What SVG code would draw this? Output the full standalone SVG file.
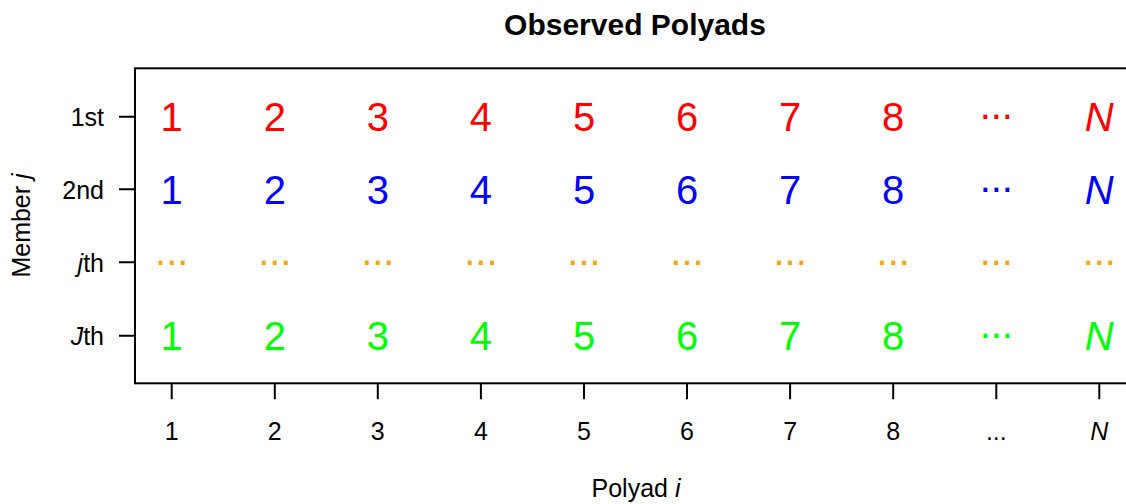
<svg xmlns="http://www.w3.org/2000/svg" width="1126" height="504" viewBox="0 0 1126 504">
<style>
text{font-family:"Liberation Sans",Arial,sans-serif;}
.title{font-size:30px;font-weight:bold;text-anchor:middle;}
.lab{font-size:25px;fill:#000;}
.tx{text-anchor:middle;}
.ty{text-anchor:end;}
.big{font-size:40px;text-anchor:middle;}
.it{font-style:italic;}
.r{fill:#FF0000;}.b{fill:#0000FF;}.o{fill:#FFA500;}.g{fill:#00FF00;}
.ax{stroke:#000;stroke-width:2;fill:none;}
</style>
<rect width="1126" height="504" fill="#fff"/>
<text class="title" x="635" y="35">Observed Polyads</text>
<g id="axes">
<rect class="ax" x="135" y="68.3" width="1010" height="315"/>
<path class="ax" d="M171.7 383.3V399.3M274.8 383.3V399.3M377.8 383.3V399.3M480.9 383.3V399.3M584 383.3V399.3M687 383.3V399.3M790.1 383.3V399.3M893.2 383.3V399.3M996.3 383.3V399.3M1099.3 383.3V399.3"/>
<path class="ax" d="M119 116.7H135M119 189.3H135M119 262.3H135M119 335.7H135"/>
<g class="lab tx">
<text x="171.7" y="440">1</text><text x="274.8" y="440">2</text><text x="377.8" y="440">3</text><text x="480.9" y="440">4</text><text x="584" y="440">5</text><text x="687" y="440">6</text><text x="790.1" y="440">7</text><text x="893.2" y="440">8</text><text x="996.3" y="440">...</text><text x="1099.3" y="440" class="it">N</text>
</g>
<g class="lab ty">
<text x="104" y="126">1st</text>
<text x="104" y="198.5">2nd</text>
<text x="104" y="271.5"><tspan class="it">j</tspan>th</text>
<text x="104" y="345"><tspan class="it">J</tspan>th</text>
</g>
<text class="lab tx" x="636" y="497">Polyad <tspan class="it">i</tspan></text>
<text class="lab tx" transform="translate(30 225.5) rotate(-90)">Member <tspan class="it">j</tspan></text>
</g>
<g id="row1" class="big r">
<text x="171.7" y="131">1</text><text x="274.8" y="131">2</text><text x="377.8" y="131">3</text><text x="480.9" y="131">4</text><text x="584" y="131">5</text><text x="687" y="131">6</text><text x="790.1" y="131">7</text><text x="893.2" y="131">8</text><text x="996.3" y="119.4">...</text><text x="1099.3" y="131" class="it">N</text>
</g>
<g id="row2" class="big b">
<text x="171.7" y="203.5">1</text><text x="274.8" y="203.5">2</text><text x="377.8" y="203.5">3</text><text x="480.9" y="203.5">4</text><text x="584" y="203.5">5</text><text x="687" y="203.5">6</text><text x="790.1" y="203.5">7</text><text x="893.2" y="203.5">8</text><text x="996.3" y="192">...</text><text x="1099.3" y="203.5" class="it">N</text>
</g>
<g id="row3" class="big o">
<text x="171.7" y="265">...</text><text x="274.8" y="265">...</text><text x="377.8" y="265">...</text><text x="480.9" y="265">...</text><text x="584" y="265">...</text><text x="687" y="265">...</text><text x="790.1" y="265">...</text><text x="893.2" y="265">...</text><text x="996.3" y="265">...</text><text x="1099.3" y="265">...</text>
</g>
<g id="row4" class="big g">
<text x="171.7" y="350">1</text><text x="274.8" y="350">2</text><text x="377.8" y="350">3</text><text x="480.9" y="350">4</text><text x="584" y="350">5</text><text x="687" y="350">6</text><text x="790.1" y="350">7</text><text x="893.2" y="350">8</text><text x="996.3" y="338.4">...</text><text x="1099.3" y="350" class="it">N</text>
</g>
</svg>
